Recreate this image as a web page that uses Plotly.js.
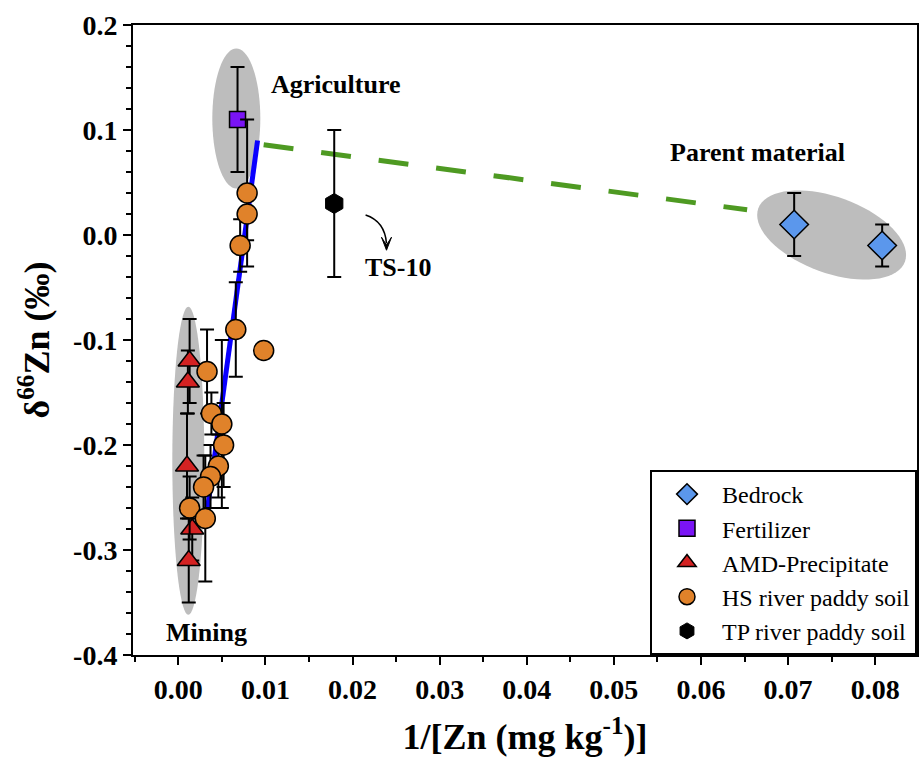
<!DOCTYPE html>
<html>
<head>
<meta charset="utf-8">
<script src="https://cdn.plot.ly/plotly-3.0.1.min.js"></script>
<style>html,body{margin:0;padding:0;background:#fff;}#chart{width:924px;height:768px;}</style>
</head>
<body>
<div id="chart"></div>
<script>
// ---- data ----
const bedrockX = [0.0707, 0.0808];
const bedrockY = [0.01, -0.01];
const bedrockErr = [0.03, 0.02];

const fertX = [0.0068];
const fertY = [0.11];
const fertErr = [0.05];

const amdX = [0.0013, 0.0011, 0.0010, 0.0016, 0.0012];
const amdY = [-0.12, -0.14, -0.22, -0.28, -0.31];
const amdErr = [0.04, 0.03, 0.05, 0.03, 0.04];

const hsX = [0.0079, 0.0079, 0.0071, 0.0066, 0.0098, 0.0033, 0.0038, 0.0050, 0.0052, 0.0046, 0.0037, 0.0029, 0.0013, 0.0031];
const hsY = [0.04, 0.02, -0.01, -0.09, -0.11, -0.13, -0.17, -0.18, -0.20, -0.22, -0.23, -0.24, -0.26, -0.27];
const hsErr = [0.07, 0.025, 0.025, 0.045, 0, 0.04, 0.02, 0.08, 0.04, 0.03, 0.03, 0.03, 0.03, 0.06];

const tpX = [0.0179];
const tpY = [0.03];
const tpErr = [0.07];

const blueLineX = [0.0033, 0.0091];
const blueLineY = [-0.264, 0.090];
const greenLineX = [0.0098, 0.0653];
const greenLineY = [0.086, 0.024];

const yTickVals = [0.2, 0.1, 0.0, -0.1, -0.2, -0.3, -0.4];
const yTickText = ['0.2', '0.1', '0.0', '-0.1', '-0.2', '-0.3', '-0.4'];
const xTickVals = [0, 0.01, 0.02, 0.03, 0.04, 0.05, 0.06, 0.07, 0.08];
const xTickText = ['0.00', '0.01', '0.02', '0.03', '0.04', '0.05', '0.06', '0.07', '0.08'];

// ---- layout geometry ----
const W = 924, H = 768;
const M = {l: 133, r: 7, t: 25, b: 113};
const xRange = [-0.0052, 0.0848];
const yRange = [-0.4, 0.2];
const xs = (W - M.l - M.r) / (xRange[1] - xRange[0]);
const ys = (H - M.t - M.b) / (yRange[1] - yRange[0]);

function ellipsePath(cx, cy, a, b, thetaDeg) {
  const th = thetaDeg * Math.PI / 180;
  let p = '';
  const n = 72;
  for (let i = 0; i <= n; i++) {
    const t = 2 * Math.PI * i / n;
    const dx = a * Math.cos(t) * Math.cos(th) - b * Math.sin(t) * Math.sin(th);
    const dy = a * Math.cos(t) * Math.sin(th) + b * Math.sin(t) * Math.cos(th);
    const x = cx + dx / xs, y = cy - dy / ys;
    p += (i === 0 ? 'M' : 'L') + x.toFixed(6) + ',' + y.toFixed(6);
  }
  return p + 'Z';
}
// small downward arrowhead, tip at data point, size in px
function arrowHeadPath(tx, ty, halfW, len) {
  const p1 = [tx - halfW / xs, ty + len / ys];
  const p2 = [tx + halfW / xs, ty + len / ys];
  return 'M' + tx + ',' + ty + 'L' + p1[0] + ',' + p1[1] + 'L' + (tx) + ',' + (ty + 0.4 * len / ys) + 'L' + p2[0] + ',' + p2[1] + 'Z';
}

const serif = 'Liberation Serif, Times New Roman, serif';
const errStyle = (arr) => ({type: 'data', array: arr, visible: true, color: '#000', thickness: 2, width: 7});

const traces = [
  {x: blueLineX, y: blueLineY, mode: 'lines', line: {color: '#0a00ff', width: 5}, showlegend: false, hoverinfo: 'skip'},
  {x: greenLineX, y: greenLineY, mode: 'lines', line: {color: '#4e9a22', width: 5, dash: '30px,28px'}, showlegend: false, hoverinfo: 'skip'},
  {x: bedrockX, y: bedrockY, name: 'Bedrock', mode: 'markers', error_y: errStyle(bedrockErr),
   marker: {symbol: 'diamond', size: 22, color: '#5b97ec', line: {color: '#000', width: 1.5}}},
  {x: fertX, y: fertY, name: 'Fertilizer', mode: 'markers', error_y: errStyle(fertErr),
   marker: {symbol: 'square', size: 16, color: '#7a14f5', line: {color: '#000', width: 1.5}}},
  {x: amdX, y: amdY, name: 'AMD-Precipitate', mode: 'markers', error_y: errStyle(amdErr),
   marker: {symbol: 'triangle-up', size: 20, color: '#d42222', line: {color: '#000', width: 1.5}}},
  {x: hsX, y: hsY, name: 'HS river paddy soil', mode: 'markers', error_y: errStyle(hsErr),
   marker: {symbol: 'circle', size: 20, color: '#e0822a', line: {color: '#000', width: 1.5}}},
  {x: tpX, y: tpY, name: 'TP river paddy soil', mode: 'markers', error_y: errStyle(tpErr),
   marker: {symbol: 'hexagon', size: 20, color: '#000', line: {color: '#000', width: 1}}}
];

const gray = '#bdbdbd';
const shapes = [
  {type: 'path', xref: 'x', yref: 'y', path: ellipsePath(0.00666, 0.111, 24, 70, 0), fillcolor: gray, line: {width: 0}, layer: 'below'},
  {type: 'path', xref: 'x', yref: 'y', path: ellipsePath(0.00115, -0.215, 16, 154, 0), fillcolor: gray, line: {width: 0}, layer: 'below'},
  {type: 'path', xref: 'x', yref: 'y', path: ellipsePath(0.0750, 0.0, 78, 38, 20), fillcolor: gray, line: {width: 0}, layer: 'below'},
  {type: 'path', xref: 'x', yref: 'y', path: 'M0.0215,0.019 Q0.0237,0.013 0.0239,-0.008', line: {color: '#000', width: 1.5}},
  {type: 'path', xref: 'x', yref: 'y', path: arrowHeadPath(0.0239, -0.0145, 5, 13), fillcolor: '#000', line: {color: '#000', width: 1}}
];

const labelFont = {family: serif, size: 26, color: '#000', weight: 'bold'};
const annotations = [
  {x: 0.01814, y: 0.1429, text: 'Agriculture', showarrow: false, font: labelFont},
  {x: 0.0665, y: 0.079, text: 'Parent material', showarrow: false, font: labelFont},
  {x: 0.02526, y: -0.0314, text: 'TS-10', showarrow: false, font: labelFont},
  {x: 0.0032, y: -0.379, text: 'Mining', showarrow: false, font: labelFont}
];

const axisCommon = {
  showline: true, linecolor: '#000', linewidth: 2, mirror: true,
  ticks: 'outside', ticklen: 8, tickwidth: 2, tickcolor: '#000',
  showgrid: false, zeroline: false,
  tickfont: {family: serif, size: 28, color: '#000', weight: 'bold'}
};

const layout = {
  width: W, height: H,
  margin: M,
  paper_bgcolor: '#fff', plot_bgcolor: '#fff',
  font: {family: serif, color: '#000'},
  xaxis: Object.assign({}, axisCommon, {
    range: xRange, tickmode: 'array', tickvals: xTickVals, ticktext: xTickText,
    minor: {dtick: 0.005, tick0: 0, ticks: 'outside', ticklen: 5, tickwidth: 2, tickcolor: '#000', showgrid: false},
    title: {text: '1/[Zn (mg kg<sup>-1</sup>)]', font: {family: serif, size: 36, color: '#000', weight: 'bold'}, standoff: 20}
  }),
  yaxis: Object.assign({}, axisCommon, {
    range: yRange, tickmode: 'array', tickvals: yTickVals, ticktext: yTickText,
    minor: {dtick: 0.02, tick0: 0, ticks: 'outside', ticklen: 5, tickwidth: 2, tickcolor: '#000', showgrid: false},
    title: {text: 'δ<sup>66</sup>Zn (‰)', font: {family: serif, size: 36, color: '#000', weight: 'bold'}, standoff: 12}
  }),
  legend: {
    x: 1, y: 0, xanchor: 'right', yanchor: 'bottom',
    bgcolor: '#fff', bordercolor: '#000', borderwidth: 2,
    font: {family: serif, size: 24, color: '#000'},
    itemwidth: 60,
    tracegroupgap: 0
  },
  shapes: shapes,
  annotations: annotations,
  showlegend: true
};

Plotly.newPlot('chart', traces, layout, {displayModeBar: false, staticPlot: true});
</script>
</body>
</html>
